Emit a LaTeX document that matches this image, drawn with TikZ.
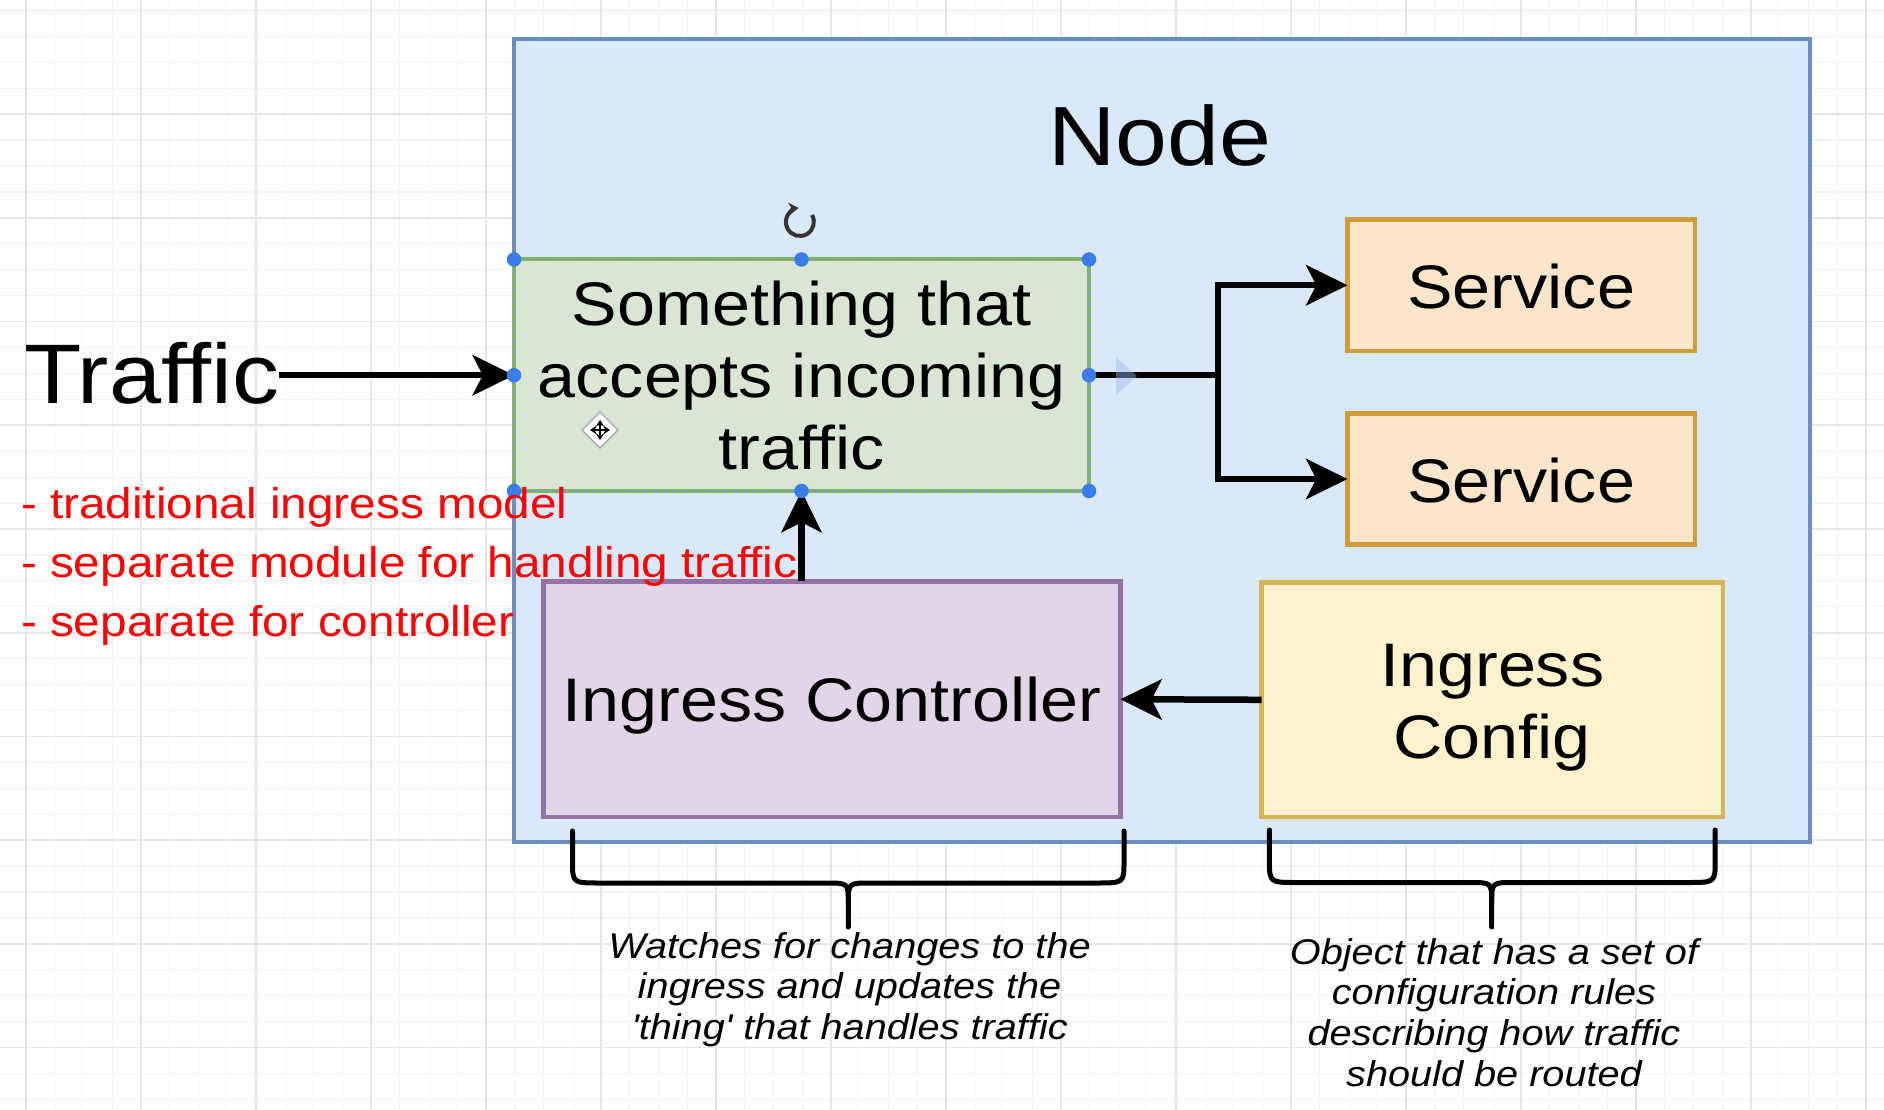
\documentclass[tikz,border=0pt]{standalone}
\usepackage{fontspec}
\setmainfont{Liberation Sans}[Ligatures=NoCommon]
\usepackage{graphicx}
\usetikzlibrary{arrows.meta}
\definecolor{nodefill}{HTML}{DAE8FC}
\definecolor{nodeline}{HTML}{6C8EBF}
\definecolor{greenfill}{HTML}{D8E6D3}
\definecolor{greenline}{HTML}{82B366}
\definecolor{selline}{HTML}{7E9FB0}
\definecolor{svcfill}{HTML}{FBE6CB}
\definecolor{svcline}{HTML}{D09C3A}
\definecolor{ctrlfill}{HTML}{E1D5E7}
\definecolor{ctrlline}{HTML}{9673A6}
\definecolor{cfgfill}{HTML}{FFF2CC}
\definecolor{cfgline}{HTML}{D6B656}
\definecolor{hblue}{HTML}{3A7DEB}
\definecolor{hintblue}{HTML}{9DB9EE}
\definecolor{redtext}{HTML}{FF0000}
\definecolor{gridminor}{HTML}{F4F4F4}
\definecolor{gridmajor}{HTML}{E6E6E6}
\definecolor{icongray}{HTML}{333333}
\newcommand\pxu{0.4pt}
\newcommand\hs[1]{\scalebox{1.11}[1]{\begin{tabular}[t]{@{}c@{}}#1\end{tabular}}}
\newcommand\hsl[1]{\scalebox{1.11}[1]{\begin{tabular}[t]{@{}l@{}}#1\end{tabular}}}
\begin{document}
\begin{tikzpicture}[x=0.4pt,y=-0.4pt,
  box/.style={draw, line width=1.6pt, inner sep=0pt, outer sep=0pt},
  lbl/.style={anchor=base, inner sep=0pt, outer sep=0pt, text=black},
  arr/.style={line width=2.6pt, draw=black, -{Stealth[length=16.5pt,width=16pt,inset=4pt]}},
  bracestyle/.style={line width=2pt, draw=black, line cap=round, line join=round},
  hnd/.style={fill=hblue},
  gmin/.style={draw=gridminor, line width=0.5pt},
  gmaj/.style={draw=gridmajor, line width=0.7pt},
  mainfont/.style={font=\fontsize{24.6pt}{28.7pt}\selectfont},
  movearr/.style={line width=1.1pt, {Stealth[length=2.6pt,width=3.4pt]}-{Stealth[length=2.6pt,width=3.4pt]}},
]
\useasboundingbox (0,0) rectangle (1884,1110);
\fill[white] (0,0) rectangle (1884,1110);
% grid
\foreach \k in {-1,...,65} \draw[gmin] ({26+28.75*\k},0) -- ({26+28.75*\k},1110);
\foreach \k in {0,...,43} \draw[gmin] (0,{10.4+25.93*\k}) -- (1884,{10.4+25.93*\k});
\foreach \k in {0,...,16} \draw[gmaj] ({26+115*\k},0) -- ({26+115*\k},1110);
\foreach \k in {0,...,10} \draw[gmaj] (0,{10.4+103.72*\k}) -- (1884,{10.4+103.72*\k});

% node container
\node[box, draw=nodeline, fill=nodefill, line width=1.8pt, minimum width=1296*\pxu, minimum height=803*\pxu] (nodebox) at (1162,440.5) {};
\node[lbl, font=\fontsize{33.6pt}{40pt}\selectfont] (title) at (1160,166) {\hs{Node}};

% boxes
\node[box, draw=greenline, fill=greenfill, minimum width=575*\pxu, minimum height=231.5*\pxu] (green) at (801.5,375.25) {};
\draw[draw=selline, line width=0.7pt, dash pattern=on 2pt off 2pt] (green.north west) rectangle (green.south east);
\node[lbl, mainfont] (greenlbl) at (801.5,325.7) {\hs{Something that\\accepts incoming\\traffic}};

\node[box, draw=svcline, fill=svcfill, line width=1.9pt, minimum width=347.5*\pxu, minimum height=131.5*\pxu] (svc1) at (1521.25,285.25) {};
\node[lbl, mainfont] (svc1lbl) at (1521.25,308.7) {\hs{Service}};
\node[box, draw=svcline, fill=svcfill, line width=1.9pt, minimum width=347.5*\pxu, minimum height=131*\pxu] (svc2) at (1521.25,479) {};
\node[lbl, mainfont] (svc2lbl) at (1521.25,502.5) {\hs{Service}};

\node[box, draw=ctrlline, fill=ctrlfill, line width=1.8pt, minimum width=576.7*\pxu, minimum height=235.5*\pxu] (ctrl) at (832,699.25) {};
\node[lbl, mainfont] (ctrllbl) at (832,721.4) {\hs{Ingress Controller}};

\node[box, draw=cfgline, fill=cfgfill, line width=1.8pt, minimum width=461.4*\pxu, minimum height=234.4*\pxu] (cfg) at (1492.3,699.8) {};
\node[lbl, font=\fontsize{24.6pt}{29pt}\selectfont] (cfglbl) at (1492.3,686) {\hs{Ingress\\Config}};

% traffic
\node[anchor=base west, inner sep=0pt, outer sep=0pt, font=\fontsize{33.8pt}{40pt}\selectfont] (traffic) at (24,403.6) {\hs{Traffic}};

% connectors
\coordinate (split) at (1218,375.25);
\draw[arr] (traffic.east |- green.west) -- (green.west);
\draw[line width=2.6pt] (green.east) -- (split);
\draw[arr] (split) |- (svc1.west);
\draw[arr] (split) |- (svc2.west);
\draw[arr] (green.south |- ctrl.north) -- (green.south);
\draw[arr] (cfg.west) -- (ctrl.east);
\fill[hintblue, opacity=0.45] (1116,357.5) -- (1137,376) -- (1116,394.7) -- cycle;

% braces
\draw[bracestyle] (572.5,831) -- (572.5,861) .. controls (572.5,883) .. (600,883) -- (826,883) .. controls (848.3,883) .. (848.3,903) -- (848.3,927);
\draw[bracestyle] (1124,831) -- (1124,861) .. controls (1124,883) .. (1096,883) -- (870.6,883) .. controls (848.3,883) .. (848.3,903);
\draw[bracestyle] (1269.4,830) -- (1269.4,860) .. controls (1269.4,882.5) .. (1297,882.5) -- (1469.4,882.5) .. controls (1491.7,882.5) .. (1491.7,903) -- (1491.7,927);
\draw[bracestyle] (1715.2,830) -- (1715.2,860) .. controls (1715.2,882.5) .. (1687.6,882.5) -- (1514,882.5) .. controls (1491.7,882.5) .. (1491.7,903);

\node[lbl, font=\fontsize{14.3pt}{16.1pt}\selectfont\itshape] (note1) at (849.5,958.6) {\hs{Watches for changes to the\\ingress and updates the\\\textquotesingle thing\textquotesingle{} that handles traffic}};
\node[lbl, font=\fontsize{14.3pt}{16.3pt}\selectfont\itshape] (note2) at (1494,964) {\hs{Object that has a set of\\configuration rules\\describing how traffic\\should be routed}};

% selection handles
\foreach \p in {(514,259.5),(801.5,259.5),(1089,259.5),(514,375.25),(1089,375.25),(514,491),(801.5,491),(1089,491)}
  \fill[hnd] \p circle[radius=2.9pt];

% rotate icon
\draw[draw=icongray, line width=1.6pt, -{Stealth[length=4pt,width=5pt]}] (812,215) arc[start angle=30, end angle=-265, radius=5.6pt];
% move icon
\filldraw[fill=white, draw=gray!60, line width=0.6pt] (600,412) -- (618,430) -- (600,448) -- (582,430) -- cycle;
\draw[movearr] (590,430) -- (610,430);
\draw[movearr] (600,420) -- (600,440);

% red notes
\node[anchor=base west, inner sep=0pt, outer sep=0pt, text=redtext, font=\fontsize{17.2pt}{23.6pt}\selectfont] (notes) at (21,518.6) {\hsl{- traditional ingress model\\- separate module for handling traffic\\- separate for controller}};
\end{tikzpicture}
\end{document}
